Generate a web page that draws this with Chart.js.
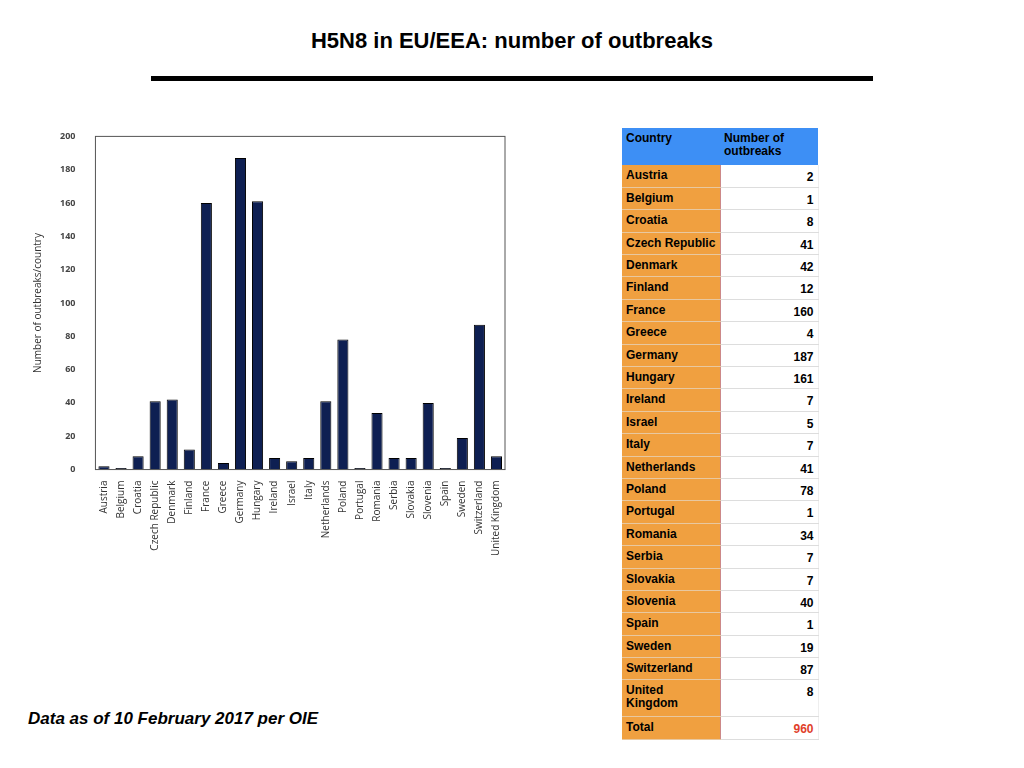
<!DOCTYPE html>
<html><head><meta charset="utf-8">
<script src="https://cdn.jsdelivr.net/npm/chart.js@4"></script>
<style>
body{margin:0;width:1024px;height:768px;background:#fff;font-family:"Liberation Sans",Arial,sans-serif;position:relative;overflow:hidden}
#title{position:absolute;top:28px;left:0;width:1024px;text-align:center;font-weight:bold;font-size:22px}
#rule{position:absolute;top:76px;left:151px;width:722px;height:5px;background:#000}
#cw{position:absolute;left:28px;top:119px;width:487px;height:440px}
#foot{position:absolute;left:28px;top:709px;font-weight:bold;font-style:italic;font-size:17px}
table{position:absolute;left:622px;top:128px;border-collapse:collapse;font-size:12px;font-weight:bold;table-layout:fixed;width:196px}
td{box-sizing:border-box;height:22.4px;padding:0 4px;padding-top:4px;line-height:13px;border-bottom:1px solid #ddd;vertical-align:top;overflow:hidden}
td.c{background:#f0a040;width:98px;border-right:1px solid #c88;border-bottom:1px solid #e8c8a0}
td.v{width:98px;text-align:right;border-right:1px solid #eee;padding-top:6px}
tr.h td{background:#3d8ff5;height:37px;padding-top:4px;border:none}
tr.uk td{height:37px}
</style></head><body>
<div id="title">H5N8 in EU/EEA: number of outbreaks</div>
<div id="rule"></div>
<div id="cw"><canvas id="c"></canvas></div>
<table id="t"></table>
<div id="foot">Data as of 10 February 2017 per OIE</div>
<script>
const countries=["Austria","Belgium","Croatia","Czech Republic","Denmark","Finland","France","Greece","Germany","Hungary","Ireland","Israel","Italy","Netherlands","Poland","Portugal","Romania","Serbia","Slovakia","Slovenia","Spain","Sweden","Switzerland","United Kingdom"];
const outbreaks=[2,1,8,41,42,12,160,4,187,161,7,5,7,41,78,1,34,7,7,40,1,19,87,8];
const yTicks=[0,20,40,60,80,100,120,140,160,180,200];
const t=document.getElementById('t');
let h='<tr class="h"><td style="width:98px">Country</td><td style="width:98px">Number of<br>outbreaks</td></tr>';
countries.forEach((c,i)=>{const uk=c==="United Kingdom";h+=`<tr${uk?' class="uk"':''}><td class="c">${uk?"United<br>Kingdom":c}</td><td class="v">${outbreaks[i]}</td></tr>`;});
h+=`<tr><td class="c">Total</td><td class="v" style="color:#e0402a">${outbreaks.reduce((a,b)=>a+b,0)}</td></tr>`;
t.innerHTML=h;
const box={id:'box',afterDraw(ch){const a=ch.chartArea,x=ch.ctx;x.save();x.strokeStyle='#555';x.lineWidth=1;x.strokeRect(a.left,a.top,a.right-a.left,a.bottom-a.top);x.restore();}};
new Chart(document.getElementById('c'),{type:'bar',
data:{labels:countries,datasets:[{data:outbreaks,backgroundColor:'#0e1f52',borderColor:'#000',borderWidth:1,barPercentage:0.65,categoryPercentage:1}]},
options:{responsive:true,maintainAspectRatio:false,animation:false,plugins:{legend:{display:false},tooltip:{enabled:false}},
layout:{padding:{top:4,right:10}},
scales:{x:{grid:{display:false},ticks:{maxRotation:90,minRotation:90,color:'#333',font:{size:10,family:'Open Sans'},autoSkip:false}},
y:{min:0,max:200,afterBuildTicks(s){s.ticks=yTicks.map(v=>({value:v}));},grid:{display:false},ticks:{color:'#444',font:{size:9,family:'Open Sans',weight:'bold'},padding:12},
title:{display:true,text:'Number of outbreaks/country',color:'#333',font:{size:10,family:'Open Sans'}}}}},
plugins:[box]});
</script></body></html>
